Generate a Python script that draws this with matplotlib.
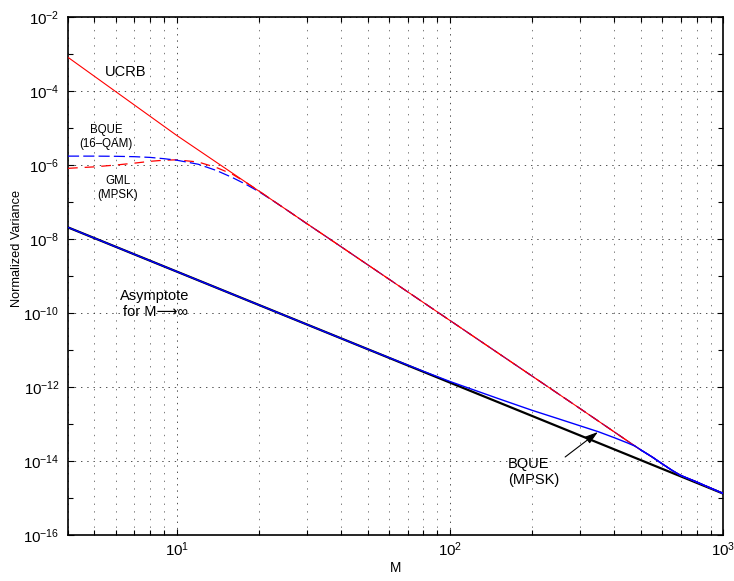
import matplotlib
matplotlib.use("Agg")
import matplotlib.pyplot as plt
import numpy as np
from matplotlib.ticker import FixedLocator, FuncFormatter, NullFormatter

plt.rcParams['font.family'] = ['Liberation Sans', 'DejaVu Sans']
plt.rcParams['mathtext.fontset'] = 'custom'
plt.rcParams['mathtext.rm'] = 'Liberation Sans'
plt.rcParams['mathtext.default'] = 'regular'
plt.rcParams['lines.scale_dashes'] = False

# ---- data ----
# Asymptote for M -> infinity (straight line on log-log axes)
asym_M = [4, 1000]
asym_V = [2.06e-8, 1.32e-15]

# UCRB
ucrb_M = [4, 10, 100, 300, 477, 500, 550, 600, 650, 700, 750, 800, 900, 1000]
ucrb_logV = [-3.09, -5.20, -10.20, -12.585, -13.60, -13.70, -13.89, -14.08,
             -14.25, -14.39, -14.48, -14.565, -14.73, -14.875]

# BQUE (MPSK)
bqm_M = [4, 50, 80, 100, 150, 200, 250, 300, 350, 400, 450, 477, 500, 550,
         600, 650, 700, 750, 800, 900, 1000]
bqm_logV = [-7.686, -10.977, -11.575, -11.85, -12.31, -12.63, -12.86, -13.05,
            -13.21, -13.37, -13.52, -13.60, -13.70, -13.89, -14.08, -14.25,
            -14.39, -14.48, -14.565, -14.73, -14.875]

# BQUE (16-QAM)
bq16_M = [4, 5, 6, 7, 8, 9, 10, 12, 14, 16, 18, 20, 23, 26, 30, 35, 100, 300,
          477, 500, 550, 600, 650, 700, 750, 800, 900, 1000]
bq16_logV = [-5.76, -5.76, -5.765, -5.775, -5.795, -5.83, -5.87, -5.98, -6.15,
             -6.34, -6.53, -6.72, -7.01, -7.275, -7.59, -7.92, -10.20, -12.585,
             -13.60, -13.70, -13.89, -14.08, -14.25, -14.39, -14.48, -14.565,
             -14.73, -14.875]

# GML (MPSK)
gml_M = [4, 5, 6, 7, 8, 9, 10, 12, 14, 16, 18, 20, 23, 26, 30, 35, 100, 300,
         477, 500, 550, 600, 650, 700, 750, 800, 900, 1000]
gml_logV = [-6.09, -6.05, -6.0, -5.95, -5.90, -5.87, -5.86, -5.92, -6.07,
            -6.25, -6.48, -6.70, -7.01, -7.275, -7.59, -7.92, -10.20, -12.585,
            -13.60, -13.70, -13.89, -14.08, -14.25, -14.39, -14.48, -14.565,
            -14.73, -14.875]

x_major = [10, 100, 1000]
y_major_exp = [-2, -4, -6, -8, -10, -12, -14, -16]
y_minor_exp = [-3, -5, -7, -9, -11, -13, -15]

# ---- figure ----
fig = plt.figure(figsize=(7.34, 5.81), dpi=100)
ax = fig.add_axes([68 / 734, 46 / 581, 655 / 734, 518 / 581])

pow10 = lambda a: 10.0 ** np.asarray(a)

ax.plot(asym_M, asym_V, color='k', lw=1.6, zorder=3)
ax.plot(bqm_M, pow10(bqm_logV), color='b', lw=1.0, zorder=4)
ax.plot(gml_M, pow10(gml_logV), color='r', lw=0.9, dashes=(7, 5), zorder=3)
ax.plot(bq16_M, pow10(bq16_logV), color='b', lw=0.9, dashes=(8, 3), zorder=3)
ax.plot(ucrb_M, pow10(ucrb_logV), color='r', lw=0.8, zorder=3.5)
ax.plot(bqm_M[12:], pow10(bqm_logV[12:]), color='b', lw=1.0, zorder=4)

ax.set_xscale('log')
ax.set_yscale('log')
ax.set_xlim(4, 1000)
ax.set_ylim(1e-16, 1e-2)

ax.xaxis.set_major_locator(FixedLocator(x_major))
xminor = [m * 10 ** k for k in (0, 1, 2) for m in range(2, 10) if 4 <= m * 10 ** k <= 1000]
ax.xaxis.set_minor_locator(FixedLocator(xminor))
ax.xaxis.set_major_formatter(FuncFormatter(lambda v, p: r'$10^{%d}$' % round(np.log10(v))))
ax.xaxis.set_minor_formatter(NullFormatter())

ax.yaxis.set_major_locator(FixedLocator([10.0 ** e for e in y_major_exp]))
ax.yaxis.set_minor_locator(FixedLocator([10.0 ** e for e in y_minor_exp]))
ax.yaxis.set_major_formatter(FuncFormatter(lambda v, p: r'$10^{%d}$' % round(np.log10(v))))
ax.yaxis.set_minor_formatter(NullFormatter())

ax.tick_params(which='both', direction='in', top=True, right=True,
               labelsize=10.8, width=0.8)
ax.tick_params(which='major', length=4.5)
ax.tick_params(axis='y', which='major', pad=6)
ax.tick_params(axis='x', which='major', pad=4)
ax.tick_params(which='minor', length=3.5)

ax.grid(which='major', axis='both', color='#333333', linestyle=(0, (1, 3.5)), lw=0.6)
ax.grid(which='minor', axis='x', color='#666666', linestyle=(0, (1, 4.5)), lw=0.6)

for s in ax.spines.values():
    s.set_linewidth(1.2)

ax.set_xlabel('M', fontsize=9.8)
ax.xaxis.set_label_coords(0.5, -0.050)
ax.set_ylabel('Normalized Variance', fontsize=9.2)
ax.yaxis.set_label_coords(-0.0687, 0.553)

ax.text(0.0885, 0.894, 'UCRB', transform=ax.transAxes, fontsize=10.5,
        ha='center', va='center')
ax.text(0.058, 0.768, 'BQUE\n(16–QAM)', transform=ax.transAxes, fontsize=8.3,
        ha='center', va='center', linespacing=1.2)
ax.text(0.0763, 0.670, 'GML\n(MPSK)', transform=ax.transAxes, fontsize=8.3,
        ha='center', va='center', linespacing=1.2)
ax.text(0.1328, 0.446, 'Asymptote\nfor M\u27f6\u221e', transform=ax.transAxes,
        fontsize=10.5, ha='center', va='center', linespacing=1.2)
ax.text(0.672, 0.1216, 'BQUE\n(MPSK)', transform=ax.transAxes, fontsize=10.5,
        ha='left', va='center', linespacing=1.25)
ax.annotate('', xy=(0.809, 0.1988), xytext=(0.759, 0.1506),
            xycoords='axes fraction', textcoords='axes fraction',
            arrowprops=dict(arrowstyle='-|>,head_length=0.8,head_width=0.25',
                            color='k', lw=0.8, shrinkA=0, shrinkB=0), zorder=6)

fig.savefig('out.png', dpi=100)
